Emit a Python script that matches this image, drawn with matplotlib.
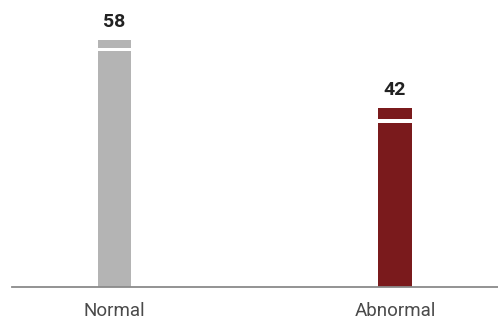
import matplotlib
matplotlib.use("Agg")
import matplotlib.pyplot as plt

categories = ["Normal", "Abnormal"]
values = [58, 42]
colors = ["#b4b4b4", "#7a1a1c"]
stripe_offsets = [2.6, 3.4]

plt.rcParams["font.family"] = ["Roboto", "DejaVu Sans"]

fig = plt.figure(figsize=(4.98, 3.26), dpi=100)
ax = fig.add_axes([12 / 498, 39 / 326, 1 - 12 / 498, 287 / 326])

x = list(range(len(categories)))
bar_w = 0.118
ax.bar(x, values, width=bar_w, color=colors, zorder=2)

# thin white band just under the top of each bar
for xi, v, off in zip(x, values, stripe_offsets):
    ax.bar(xi, 0.75, bottom=v - off, width=bar_w, color="white", zorder=3)
    ax.text(xi, v + 3.1, f"{v}", ha="center", va="baseline",
            fontsize=14, fontweight="bold", color="#222222")

ax.set_xlim(-0.365, 1.367)
ax.set_ylim(0, 287 / 4.26)

for s in ["top", "right", "left"]:
    ax.spines[s].set_visible(False)
ax.spines["bottom"].set_color("#8a8a8a")
ax.spines["bottom"].set_linewidth(1.3)
ax.set_yticks([])
ax.set_xticks(x)
ax.set_xticklabels(categories, fontsize=13.5, color="#4a4a4a")
ax.tick_params(axis="x", length=0, pad=11)

fig.savefig("out.png", dpi=100)
